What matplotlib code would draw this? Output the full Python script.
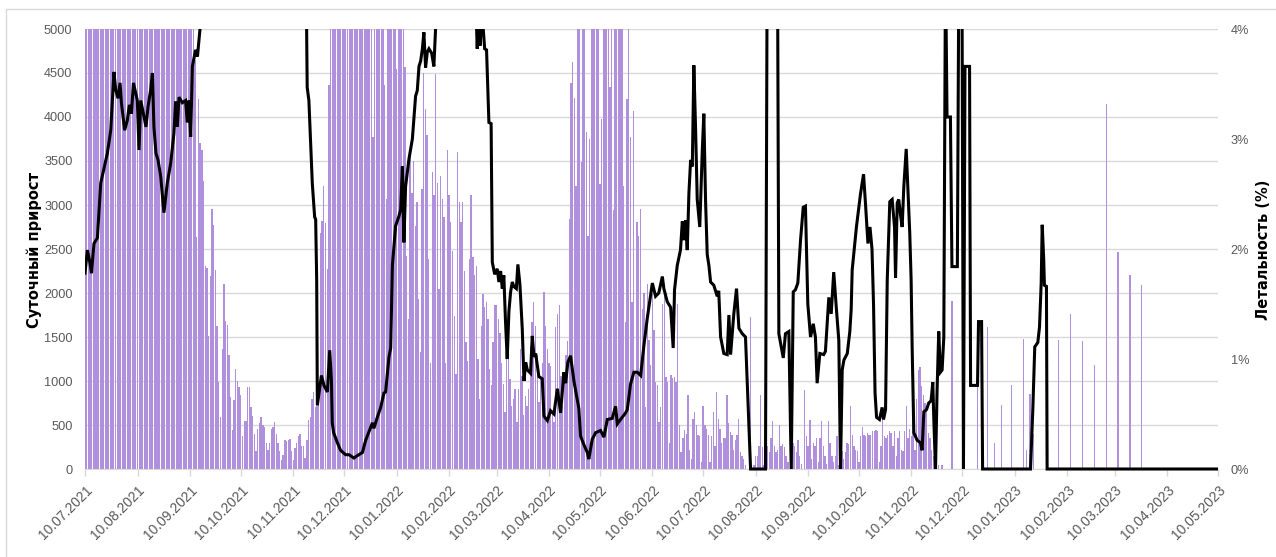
import matplotlib

matplotlib.use("Agg")
import matplotlib.pyplot as plt
import numpy as np
import pandas as pd
from matplotlib.lines import Line2D
from matplotlib.transforms import Bbox, TransformedBbox

# --- данные -----------------------------------------------------------------
START = pd.Timestamp("2021-07-10")
END = pd.Timestamp("2023-05-10")

# Суточный прирост, непрерывные блоки по дням (ключ = первый день блока).
# Значения > 5000 обрезаны осью на исходной картинке, поэтому оценены грубо.
cases_jul_sep_2021 = [
    6100, 5900, 6400, 6800, 7200, 6900, 7500, 7800, 7400, 8100,
    7900, 8300, 8600, 8200, 7900, 8400, 8800, 8500, 8100, 7800,
    8200, 8600, 8000, 7700, 7300, 7900, 7500, 7100, 7400, 6900,
    7200, 6800, 6500, 6900, 6600, 6300, 6700, 6400, 6000, 6300,
    6600, 6200, 5900, 6100, 6400, 6000, 5800, 6100, 5700, 5900,
    6200, 5800, 5600, 5900, 5500, 5700, 6000, 5600, 5400, 5700,
    5500, 5300, 5600, 5200, 5400,
]
cases_sep_nov_2021 = [
    4650, 2640, 4200, 3700, 3630, 3270, 2310, 2280, 1510, 2190,
    2960, 2770, 2260, 1620, 985, 590, 1360, 2100, 1680, 1640,
    1300, 815, 440, 780, 1140, 1000, 930, 840, 380, 550,
    550, 930, 930, 710, 600, 400, 200, 460, 520, 590,
    500, 480, 290, 220, 290, 460, 480, 530, 400, 290,
    200, 100, 160, 330, 320, 330, 340, 200, 100, 240,
    300, 380, 400, 260, 260, 120, 330, 560, 590, 800,
    870, 710, 1240, 750,
]
cases_nov_2021_mar_2022 = [
    2680, 2820, 3220, 2800, 2270, 4360,
    5600, 6200, 6900, 7400, 8100, 7600, 8400, 8900, 9300, 8700,
    9100, 9800, 9400, 8800, 9200, 8600, 8100, 8500, 7900, 7400,
    7800, 7200, 6800, 7100, 6500,
    3770,
    6900, 6400, 7000, 6600, 6200, 5800,
    4360, 3070,
    6100, 5700, 6300, 5900, 5500,
    4540,
    5800, 6200, 5600, 5300,
    4570, 2420,
    1700, 3560, 3140, 3500, 2760, 3030, 1930, 1330, 3180, 4500,
    4090, 3790, 2390, 1210, 3370, 3110, 4490, 3250, 2040, 3330,
    3070, 2860, 1210, 3620, 3110, 2810, 2480, 1740, 1080, 3600,
    3030, 2810, 3030, 2250, 1440, 1230, 2390, 3110, 2410, 2200,
    2310, 1250, 800, 1630, 1990, 1840, 1900, 1700,
]
cases_mar_jun_2022 = [
    1140, 950, 1440, 1860, 1860, 1700, 1550, 1210, 970, 650,
    1400, 1250, 1020, 720, 800, 910, 530, 910, 1360, 1060,
    610, 830, 720, 910, 1400, 1670, 1900, 1630, 1290, 760,
    1060, 1210, 2010, 1630, 1360, 1210, 1170, 650, 530, 1610,
    1760, 1860, 1060, 720, 990, 1290, 1460, 2840, 4390, 4620,
    4220, 3220, 6100, 5800, 3490, 6200, 5900, 3830, 2650, 3750,
    6300, 5700, 6400, 6000, 5600, 3240, 3980, 6100, 5900, 6500,
    5800, 4340, 6000, 2940, 6200, 5900, 6300, 5600, 6100, 3220,
    1670, 4200, 5800, 3770, 1900, 4070, 1090, 2810, 2650, 2960,
    1820,
]
cases_jun_aug_2022 = [
    2000, 710, 2100, 1470, 1180, 2000, 1580, 990, 960, 530,
    710, 1880, 2050, 1050, 990, 300, 1070, 1030, 1050, 990,
    1880, 500, 190, 350, 440, 400, 840, 220, 110, 570,
    650, 500, 390, 370, 75, 720, 500, 460, 390, 75,
    370, 650, 260, 870, 570, 460, 300, 350, 350, 840,
    520, 420, 390, 220, 330, 390, 570, 190, 150, 110,
    40, 0, 0, 1730,
]
cases_aug_dec_2022 = [
    0, 40, 150, 150, 260, 840, 250, 40, 260, 260,
    190, 350, 540, 260, 190, 220, 500, 260, 280, 250,
    150, 75, 0, 75, 300, 260, 190, 330, 150, 55,
    0, 900, 370, 260, 560, 110, 300, 260, 350, 75,
    350, 540, 260, 150, 55, 540, 300, 150, 75, 150,
    370, 40, 0, 200, 110, 190, 300, 280, 720, 390,
    260, 220, 200, 75, 370, 480, 390, 370, 410, 390,
    390, 430, 430, 440, 430, 75, 260, 570, 370, 350,
    390, 430, 410, 260, 430, 150, 350, 430, 220, 200,
    430, 720, 350, 460, 370, 1090, 220, 790, 1130, 1160,
    940, 840, 750, 680, 410, 350, 220, 150, 75, 0,
    40, 0, 40, 0, 0, 0, 0, 0,
]
case_blocks = {
    "2021-07-10": cases_jul_sep_2021,
    "2021-09-13": cases_sep_nov_2021,
    "2021-11-26": cases_nov_2021_mar_2022,
    "2022-03-06": cases_mar_jun_2022,
    "2022-06-05": cases_jun_aug_2022,
    "2022-08-08": cases_aug_dec_2022,
}

# Зима 2022/23: данные публикуются нерегулярно / раз в неделю.
report_dates = [
    "2022-12-04", "2022-12-19", "2022-12-25", "2022-12-29", "2023-01-02",
    "2023-01-08", "2023-01-15", "2023-01-17", "2023-01-19", "2023-01-21",
    "2023-02-05", "2023-02-12", "2023-02-19", "2023-02-26", "2023-03-05",
    "2023-03-12", "2023-03-19", "2023-03-26",
]
report_cases = [
    1910, 950, 1610, 290, 730,
    960, 1480, 220, 850, 400,
    1470, 1760, 1460, 1180, 4150,
    2470, 2200, 2090,
]

# Летальность (%), вершины ломаной: день от 10.07.2021 -> значение.
lethality_day = [
    0, 1.4, 3.0, 3.8, 5.3, 7.3, 9.3, 13.2, 15.2, 17.1,
    18.1, 19.5, 20.7, 21.5, 23.4, 25.0, 26.2, 27.4, 28.6, 29.9,
    30.9, 31.9, 32.9, 34.5, 36.0, 37.2, 38.8, 39.8, 40.7, 41.9,
    43.1, 44.7, 46.6, 48.6, 50.6, 52.5, 53.5, 54.5, 55.5, 57.5,
    59.4, 60.4, 61.4, 62.4, 63.4, 65.3, 66.4, 67.9, 70.1, 97.8,
    127.3, 130.6, 131.2, 132.2, 134.2, 135.6, 136.2, 136.8, 137.2, 139.6,
    141.1, 143.1, 144.5, 145.5, 146.0, 146.8, 149.0, 150.9, 153.9, 155.8,
    158.8, 161.7, 163.8, 165.7, 167.7, 169.7, 170.6, 172.6, 174.6, 176.5,
    177.5, 179.5, 180.5, 181.5, 183.4, 185.4, 186.4, 187.4, 188.3, 189.3,
    191.3, 193.3, 195.2, 196.2, 197.2, 198.2, 199.2, 200.1, 201.1, 202.1,
    203.1, 204.7, 206.0, 207.0, 208.8, 218.8, 230.0, 231.6, 232.4, 233.4,
    234.2, 236.0, 237.1, 238.5, 239.8, 240.5, 241.9, 243.4, 244.4, 245.4,
    246.4, 247.3, 248.3, 249.3, 250.3, 251.3, 252.3, 253.2, 254.7, 255.6,
    256.8, 258.2, 259.2, 260.2, 261.2, 263.1, 264.1, 265.1, 266.1, 268.0,
    270.0, 271.0, 273.0, 274.9, 276.9, 278.9, 280.8, 282.8, 283.8, 285.1,
    286.7, 288.7, 291.6, 292.6, 294.6, 296.6, 297.5, 299.5, 301.5, 304.4,
    306.4, 308.4, 311.3, 313.3, 314.3, 316.2, 319.2, 320.2, 322.1, 324.1,
    326.1, 328.1, 330.0, 332.0, 334.0, 335.0, 336.9, 338.8, 340.9, 341.8,
    343.8, 345.8, 347.3, 348.1, 349.7, 351.6, 352.7, 353.6, 354.6, 355.6,
    356.6, 357.6, 358.6, 359.5, 360.5, 361.5, 363.0, 364.5, 365.4, 366.4,
    367.4, 368.4, 369.4, 371.3, 373.3, 374.2, 375.3, 377.2, 379.2, 380.2,
    381.2, 383.1, 384.7, 386.1, 388.1, 390.0, 393.0, 401.8, 402.8, 408.9,
    409.7, 412.3, 413.6, 415.6, 417.0, 418.2, 419.5, 420.9, 422.5, 424.1,
    425.4, 426.8, 428.4, 430.0, 431.3, 432.3, 433.9, 436.2, 437.2, 439.2,
    440.6, 442.1, 443.7, 445.1, 446.1, 447.1, 448.1, 450.1, 451.6, 452.4,
    453.0, 455.5, 457.9, 459.7, 460.9, 462.3, 463.5, 464.7, 465.6, 466.5,
    467.4, 469.1, 470.7, 471.5, 472.7, 473.7, 475.2, 476.6, 478.0, 478.6,
    479.6, 480.5, 481.5, 482.5, 483.5, 484.9, 485.8, 487.0, 487.8, 488.4,
    489.4, 491.4, 493.3, 494.3, 495.3, 496.9, 498.2, 499.6, 500.6, 501.2,
    502.2, 503.1, 504.1, 505.1, 506.1, 507.1, 508.1, 509.0, 511.0, 511.9,
    515.1, 516.0, 517.8, 518.7, 519.6, 522.3, 522.9, 527.0, 527.6, 529.4,
    530.0, 558.3, 559.7, 560.8, 562.6, 563.6, 564.6, 565.2, 566.1, 566.5,
    567.7, 568.1, 669.0,
]
lethality_pct = [
    1.78, 1.99, 1.87, 1.78, 2.05, 2.10, 2.60, 2.87, 3.08, 3.61,
    3.45, 3.37, 3.51, 3.33, 3.08, 3.17, 3.31, 3.23, 3.51, 3.42,
    3.35, 2.90, 3.35, 3.23, 3.11, 3.29, 3.45, 3.60, 3.11, 2.87,
    2.81, 2.66, 2.33, 2.60, 2.78, 3.05, 3.34, 3.11, 3.38, 3.33,
    3.35, 3.15, 3.35, 3.02, 3.66, 3.81, 3.75, 4.00, 4.60, 5.50,
    5.00, 4.40, 3.47, 3.35, 2.60, 2.29, 2.27, 1.72, 0.58, 0.85,
    0.76, 0.70, 1.08, 0.81, 0.42, 0.33, 0.24, 0.17, 0.13, 0.13,
    0.10, 0.13, 0.15, 0.26, 0.34, 0.42, 0.37, 0.47, 0.56, 0.69,
    0.70, 1.02, 1.10, 1.85, 2.21, 2.30, 2.36, 2.75, 2.06, 2.57,
    2.82, 3.00, 3.39, 3.44, 3.66, 3.71, 3.82, 3.97, 3.65, 3.79,
    3.82, 3.78, 3.66, 4.00, 4.50, 5.50, 4.60, 3.82, 4.20, 3.85,
    4.20, 3.82, 3.81, 3.15, 3.14, 1.88, 1.77, 1.82, 1.70, 1.80,
    1.64, 1.76, 1.34, 1.00, 1.43, 1.61, 1.70, 1.66, 1.64, 1.86,
    1.68, 1.27, 0.80, 0.97, 0.90, 0.87, 1.21, 1.02, 1.05, 0.84,
    0.82, 0.48, 0.44, 0.53, 0.50, 0.73, 0.51, 0.88, 0.78, 0.97,
    1.03, 0.80, 0.55, 0.30, 0.22, 0.15, 0.09, 0.27, 0.33, 0.35,
    0.29, 0.45, 0.46, 0.57, 0.41, 0.45, 0.51, 0.54, 0.77, 0.88,
    0.88, 0.85, 1.12, 1.37, 1.58, 1.69, 1.57, 1.60, 1.75, 1.64,
    1.52, 1.47, 1.10, 1.63, 1.85, 1.99, 2.25, 2.08, 2.26, 1.99,
    2.51, 2.81, 2.75, 3.67, 3.11, 2.45, 2.20, 2.90, 3.23, 2.45,
    1.95, 1.85, 1.70, 1.67, 1.57, 1.62, 1.20, 1.05, 1.04, 1.40,
    1.04, 1.41, 1.64, 1.28, 1.23, 1.20, 0.00, 0.00, 4.60, 4.60,
    1.23, 1.01, 1.23, 1.25, 0.00, 1.61, 1.63, 1.69, 2.08, 2.38,
    2.39, 1.50, 1.20, 1.32, 1.20, 0.78, 1.05, 1.04, 1.07, 1.56,
    1.41, 1.79, 1.45, 1.17, 0.00, 0.90, 0.99, 1.05, 1.25, 1.45,
    1.81, 2.20, 2.50, 2.68, 2.40, 2.05, 2.20, 2.00, 1.50, 0.69,
    0.47, 0.45, 0.56, 0.45, 0.54, 1.72, 2.43, 2.45, 2.20, 1.74,
    2.42, 2.45, 2.31, 2.20, 2.57, 2.91, 2.57, 2.14, 1.72, 1.11,
    0.33, 0.26, 0.24, 0.17, 0.52, 0.54, 0.60, 0.62, 0.79, 0.45,
    0.00, 0.70, 1.25, 0.88, 0.90, 1.20, 4.60, 3.20, 3.20, 1.84,
    1.84, 4.60, 4.60, 0.00, 3.66, 3.66, 0.76, 0.76, 1.34, 1.34,
    0.00, 0.00, 0.56, 1.11, 1.15, 1.29, 1.69, 2.22, 1.90, 1.67,
    1.66, 0.00, 0.00,
]

# --- оформление ---------------------------------------------------------------
BAR_COLOR = "#b08fdc"
GRID_COLOR = "#d9d9d9"
TEXT_GRAY = "#595959"
TICK_FONT = "Liberation Sans"
TICK_SIZE = 9.2

W, H = 1276, 557
fig = plt.figure(figsize=(W / 100, H / 100), dpi=100)
ax = fig.add_axes([85 / W, 1 - 469 / H, 1133 / W, 440 / H])
ax2 = ax.twinx()

for first_day, values in case_blocks.items():
    offset = (pd.Timestamp(first_day) - START).days
    days = offset + np.arange(len(values))
    ax.bar(days, values, width=0.8, color=BAR_COLOR, linewidth=0)

report_days = [(pd.Timestamp(d) - START).days for d in report_dates]
ax.bar(report_days, report_cases, width=0.8, color=BAR_COLOR, linewidth=0)

(line,) = ax2.plot(lethality_day, lethality_pct, color="black", lw=2.2,
                   solid_joinstyle="miter")
# чтобы линия на 0% не обрезалась наполовину нижней границей осей
line.set_clip_box(TransformedBbox(Bbox([[0, -0.03], [1, 1]]), ax2.transAxes))

# ось X: 10-е число каждого месяца
n_days = (END - START).days
tick_dates = pd.date_range("2021-07-01", "2023-05-01", freq="MS") + pd.Timedelta(days=9)
ax.set_xlim(0, n_days)
ax.set_xticks([(d - START).days for d in tick_dates])
ax.set_xticklabels([d.strftime("%d.%m.%Y") for d in tick_dates], rotation=45,
                   ha="right", va="top", rotation_mode="anchor",
                   family=TICK_FONT, fontsize=10, color=TEXT_GRAY)
ax.tick_params(axis="x", length=5, width=1, color=GRID_COLOR, pad=5)

# левая ось
ax.set_ylim(0, 5000)
ax.set_yticks(np.arange(0, 5001, 500))
ax.tick_params(axis="y", length=0, pad=9, labelsize=TICK_SIZE, labelcolor=TEXT_GRAY)
for lab in ax.get_yticklabels():
    lab.set_family(TICK_FONT)
ax.grid(axis="y", color=GRID_COLOR, lw=1)
ax.set_axisbelow(True)

# правая ось
ax2.set_ylim(0, 4)
ax2.set_yticks(range(5))
ax2.set_yticklabels([f"{v}%" for v in range(5)], family=TICK_FONT)
ax2.tick_params(axis="y", length=0, pad=9, labelsize=TICK_SIZE, labelcolor=TEXT_GRAY)

for side in ("left", "right", "top"):
    ax.spines[side].set_visible(False)
for side in ("left", "right", "top", "bottom"):
    ax2.spines[side].set_visible(False)
ax.spines["bottom"].set_color(GRID_COLOR)

fig.text(34 / W, 1 - 250 / H, "Суточный прирост", rotation=90, ha="center",
         va="center", fontsize=10.5, fontweight="bold", family="DejaVu Sans")
fig.text(1263 / W, 1 - 250 / H, "Летальность (%)", rotation=90, ha="center",
         va="center", fontsize=10.5, fontweight="bold", family="DejaVu Sans")

# рамка области диаграммы
fig.add_artist(Line2D([6 / W, 6 / W, 1], [0, 1 - 9 / H, 1 - 9 / H],
                      transform=fig.transFigure, color=GRID_COLOR, lw=1))

fig.savefig("out.png", dpi=100)
plt.close(fig)
